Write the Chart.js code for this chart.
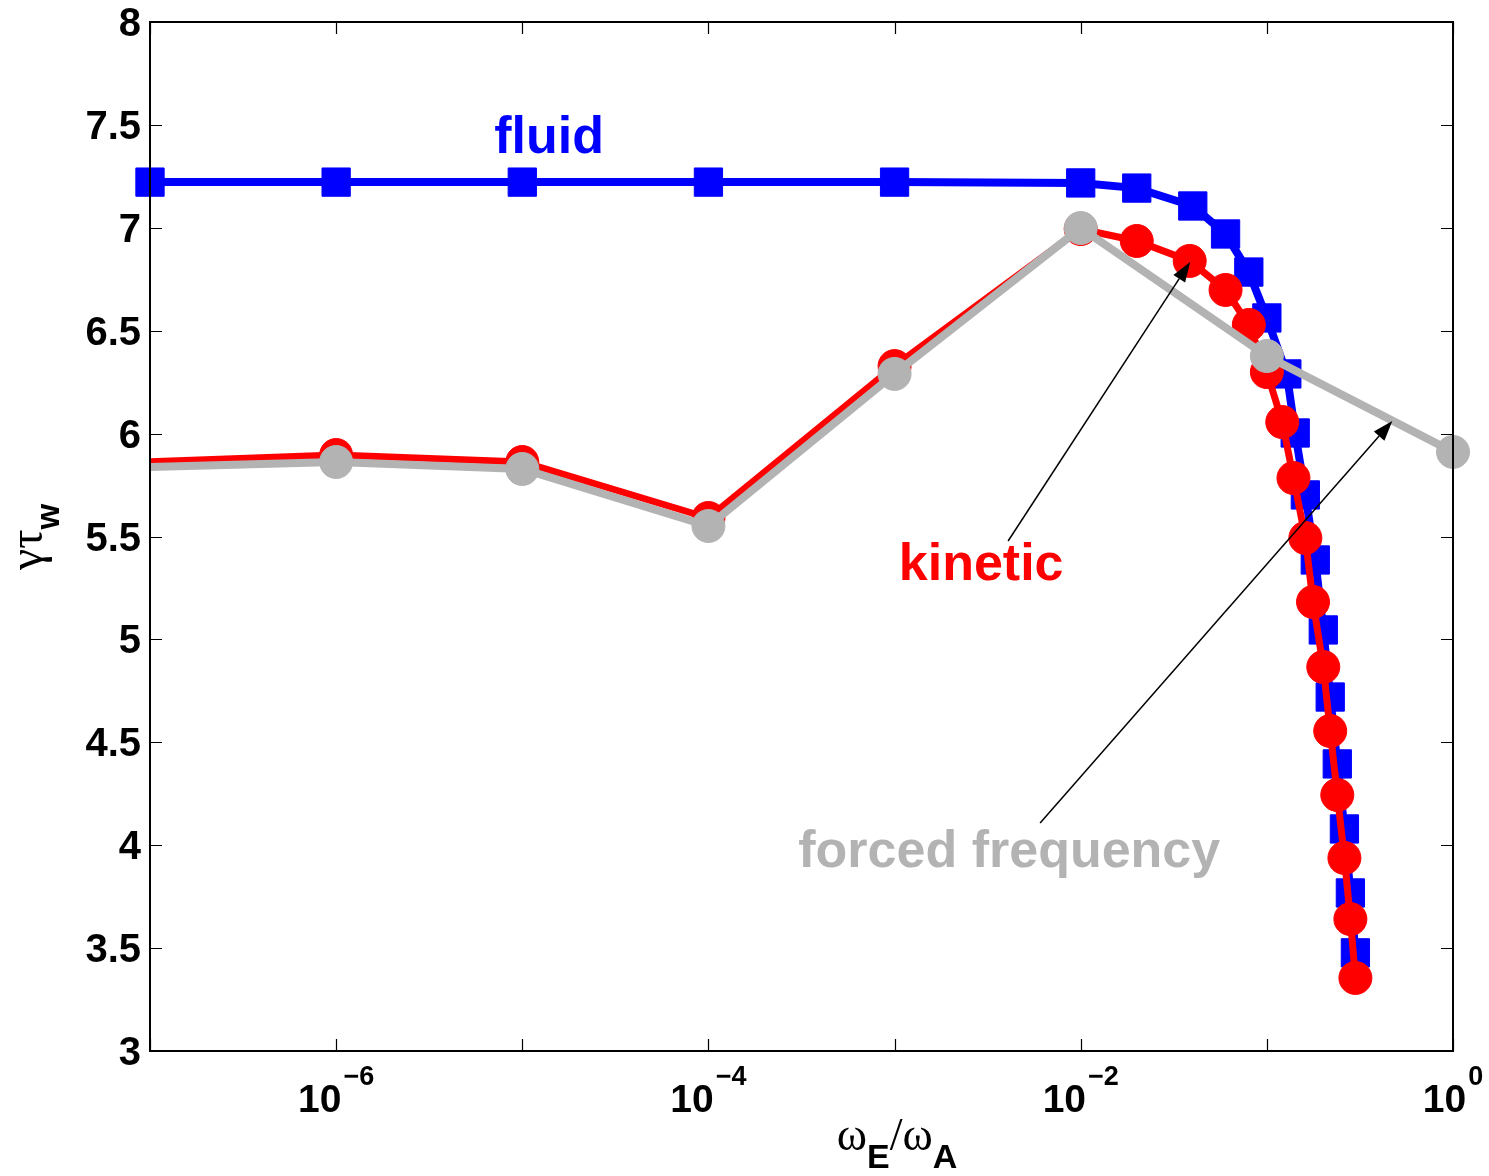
<!DOCTYPE html>
<html><head><meta charset="utf-8">
<script src="https://cdn.jsdelivr.net/npm/chart.js@4/dist/chart.umd.min.js"></script>
<style>html,body{margin:0;padding:0;background:#fff;}#wrap{width:1489px;height:1176px;}</style>
</head><body><div id="wrap"><canvas id="c" width="1489" height="1176"></canvas></div>
<script>
// ---- data ----
const fluidX   = [1e-7,1e-6,1e-5,1e-4,1e-3,1e-2,0.02,0.04,0.06,0.08,0.10,0.128,0.142,0.161,0.182,0.201,0.219,0.239,0.261,0.281,0.299];
const fluidY   = [7.222,7.222,7.222,7.222,7.222,7.218,7.193,7.106,6.970,6.785,6.562,6.290,6.003,5.702,5.386,5.046,4.720,4.395,4.079,3.768,3.477];
const kineticX = [1e-8,1e-6,1e-5,1e-4,1e-3,1e-2,0.02,0.0385,0.06,0.08,0.10,0.121,0.139,0.161,0.177,0.201,0.219,0.239,0.261,0.281,0.299];
const kineticY = [5.83,5.896,5.862,5.590,6.328,6.994,6.936,6.839,6.698,6.528,6.299,6.056,5.784,5.493,5.182,4.866,4.555,4.244,3.938,3.641,3.355];
const forcedX  = [1e-8,1e-6,1e-5,1e-4,1e-3,1e-2,1e-1,1];
const forcedY  = [5.814,5.862,5.828,5.551,6.290,6.999,6.377,5.911];
const yTickValues = [3,3.5,4,4.5,5,5.5,6,6.5,7,7.5,8];
const yTickLabels = ['3','3.5','4','4.5','5','5.5','6','6.5','7','7.5','8'];
const xTickExps   = [-7,-6,-5,-4,-3,-2,-1,0];
const xLabelExps  = [-6,-4,-2,0];

// annotations (data coordinates)
const textNotes = [
  {text:'fluid', color:'#0000ff', lx:-4.856, y:7.363},
  {text:'kinetic', color:'#ff0000', lx:-2.535, y:5.289},
  {text:'forced frequency', color:'#b3b3b3', lx:-2.384, y:3.894}
];
const arrows = [
  {lx1:-2.390, y1:5.478, lx2:-1.412, y2:6.834},
  {lx1:-2.218, y1:4.108, lx2:-0.326, y2:6.061}
];

const pts = (xs, ys) => xs.map((x,i)=>({x:x, y:ys[i]}));

const deco = {
  id:'deco',
  afterDatasetsDraw(chart){
    const ctx = chart.ctx, a = chart.chartArea, xs = chart.scales.x, ys = chart.scales.y;
    ctx.save();
    // frame
    ctx.strokeStyle = '#000'; ctx.lineWidth = 2;
    ctx.strokeRect(a.left, a.top, a.right - a.left, a.bottom - a.top);
    // ticks
    ctx.lineWidth = 1.2;
    ctx.beginPath();
    yTickValues.forEach(v=>{
      const py = Math.round(ys.getPixelForValue(v)) + 0.5;
      ctx.moveTo(a.left, py); ctx.lineTo(a.left + 12, py);
      ctx.moveTo(a.right, py); ctx.lineTo(a.right - 12, py);
    });
    xTickExps.forEach(e=>{
      const px = Math.round(xs.getPixelForValue(Math.pow(10,e))) + 0.5;
      ctx.moveTo(px, a.bottom); ctx.lineTo(px, a.bottom - 12);
      ctx.moveTo(px, a.top); ctx.lineTo(px, a.top + 12);
    });
    ctx.stroke();
    // y tick labels
    ctx.fillStyle = '#000';
    ctx.font = 'bold 40px "Liberation Sans", Arial, sans-serif';
    ctx.textAlign = 'right'; ctx.textBaseline = 'alphabetic';
    yTickValues.forEach((v,i)=>{
      const py = ys.getPixelForValue(v);
      ctx.fillText(yTickLabels[i], a.left - 9, py + 14);
    });
    // x tick labels 10^e
    ctx.textAlign = 'left';
    xLabelExps.forEach(e=>{
      const px = xs.getPixelForValue(Math.pow(10,e));
      const base = '10', sup = (e < 0 ? '\u2212' : '') + Math.abs(e);
      ctx.font = 'bold 39px "Liberation Sans", Arial, sans-serif';
      const wb = ctx.measureText(base).width;
      ctx.font = 'bold 27px "Liberation Sans", Arial, sans-serif';
      const ws = ctx.measureText(sup).width;
      const x0 = px - (wb + ws + 2) / 2;
      ctx.font = 'bold 39px "Liberation Sans", Arial, sans-serif';
      ctx.fillText(base, x0, a.bottom + 61);
      ctx.font = 'bold 27px "Liberation Sans", Arial, sans-serif';
      ctx.fillText(sup, x0 + wb + 2, a.bottom + 34);
    });
    // x title: ω_E/ω_A
    {
      const cx = 897, by = 1150;
      const parts = [
        {t:'\u03c9', f:'46px "Liberation Serif", serif', dy:0},
        {t:'E', f:'bold 34px "Liberation Sans", sans-serif', dy:18},
        {t:'/\u03c9', f:'46px "Liberation Serif", serif', dy:0},
        {t:'A', f:'bold 34px "Liberation Sans", sans-serif', dy:18}
      ];
      let tw = 0;
      parts.forEach(p=>{ctx.font=p.f; p.w=ctx.measureText(p.t).width; tw+=p.w;});
      let x = cx - tw/2;
      parts.forEach(p=>{ctx.font=p.f; ctx.fillText(p.t, x, by + p.dy); x += p.w;});
    }
    // y title: γτ_w rotated
    {
      ctx.save();
      ctx.translate(42, 537);
      ctx.rotate(-Math.PI/2);
      const parts = [
        {t:'\u03b3\u03c4', f:'48px "Liberation Serif", serif', dy:0},
        {t:'w', f:'bold 33px "Liberation Sans", sans-serif', dy:17}
      ];
      let tw = 0;
      parts.forEach(p=>{ctx.font=p.f; p.w=ctx.measureText(p.t).width; tw+=p.w;});
      let x = -tw/2;
      ctx.textAlign = 'left';
      parts.forEach(p=>{ctx.font=p.f; ctx.fillText(p.t, x, p.dy); x += p.w;});
      ctx.restore();
    }
    // text notes
    ctx.font = 'bold 52px "Liberation Sans", Arial, sans-serif';
    ctx.textAlign = 'center';
    textNotes.forEach(n=>{
      ctx.fillStyle = n.color;
      ctx.fillText(n.text, xs.getPixelForValue(Math.pow(10,n.lx)), ys.getPixelForValue(n.y));
    });
    // arrows
    ctx.strokeStyle = '#000'; ctx.fillStyle = '#000'; ctx.lineWidth = 1.5;
    arrows.forEach(r=>{
      const x1 = xs.getPixelForValue(Math.pow(10,r.lx1)), y1 = ys.getPixelForValue(r.y1);
      const x2 = xs.getPixelForValue(Math.pow(10,r.lx2)), y2 = ys.getPixelForValue(r.y2);
      const ang = Math.atan2(y2-y1, x2-x1), L = 20, W = 7;
      const bx = x2 - L*Math.cos(ang), by = y2 - L*Math.sin(ang);
      ctx.beginPath(); ctx.moveTo(x1,y1); ctx.lineTo(bx,by); ctx.stroke();
      ctx.beginPath();
      ctx.moveTo(x2,y2);
      ctx.lineTo(bx - W*Math.sin(ang), by + W*Math.cos(ang));
      ctx.lineTo(bx + W*Math.sin(ang), by - W*Math.cos(ang));
      ctx.closePath(); ctx.fill();
    });
    ctx.restore();
  }
};

new Chart(document.getElementById('c'), {
  type:'line',
  data:{datasets:[
    {label:'forced frequency', data:pts(forcedX, forcedY), borderColor:'#b3b3b3', backgroundColor:'#b3b3b3',
     borderWidth:8, pointStyle:'circle', pointRadius:16.5, pointBorderWidth:1, pointBorderColor:'#b3b3b3',
     clip:{left:0,right:25,top:25,bottom:25}},
    {label:'kinetic', data:pts(kineticX, kineticY), borderColor:'#ff0000', backgroundColor:'#ff0000',
     borderWidth:7, pointStyle:'circle', pointRadius:16.5, pointBorderWidth:1, pointBorderColor:'#ff0000',
     clip:{left:0,right:25,top:25,bottom:25}},
    {label:'fluid', data:pts(fluidX, fluidY), borderColor:'#0000ff', backgroundColor:'#0000ff',
     borderWidth:8, pointStyle:'rect', pointRadius:20, pointBorderWidth:1, pointBorderColor:'#0000ff',
     clip:{left:25,right:25,top:25,bottom:25}}
  ]},
  options:{
    responsive:false, animation:false, devicePixelRatio:1, events:[],
    layout:{padding:{top:22, right:36, left:0, bottom:0}},
    plugins:{legend:{display:false}, tooltip:{enabled:false}},
    elements:{line:{tension:0}},
    scales:{
      x:{type:'logarithmic', min:1e-7, max:1,
         grid:{display:false}, border:{display:false}, ticks:{display:false},
         afterFit:s=>{s.height=125;}},
      y:{type:'linear', min:3, max:8,
         grid:{display:false}, border:{display:false}, ticks:{display:false},
         afterFit:s=>{s.width=150;}}
    }
  },
  plugins:[deco]
});
</script></body></html>
